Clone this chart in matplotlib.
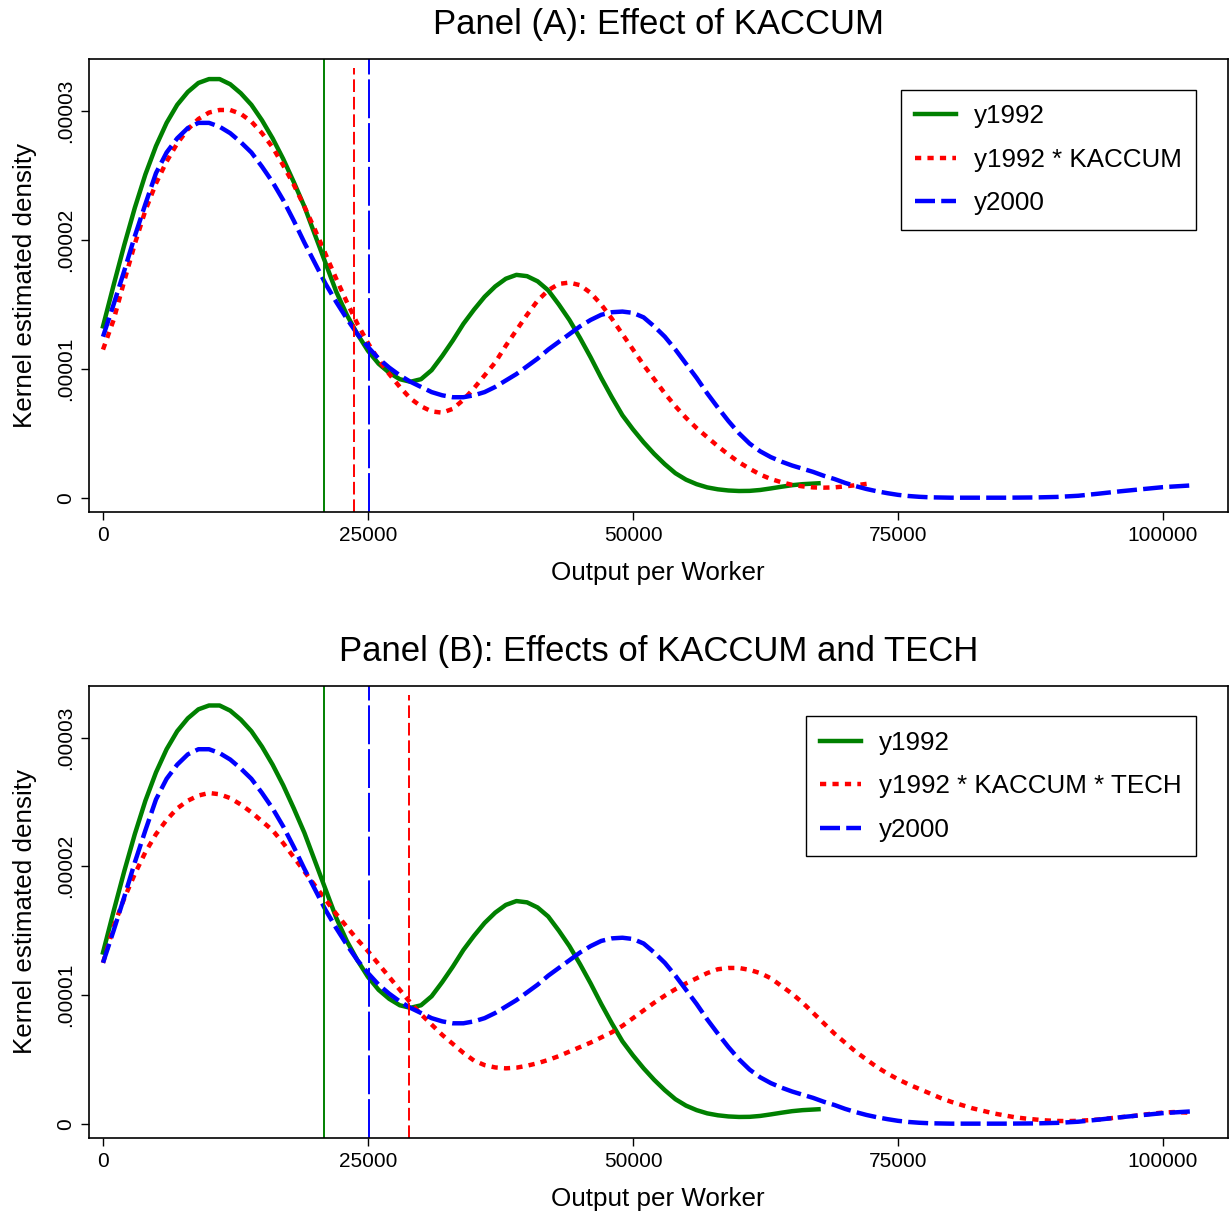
import matplotlib
matplotlib.use("Agg")
import matplotlib.pyplot as plt

plt.rcParams["font.family"] = ["Liberation Sans", "DejaVu Sans"]

# ----------------------------
# Data (x in thousands, density in 1e-6)
# ----------------------------
y1992_x = [0, 1, 2, 3, 4, 5, 6, 7, 8, 9, 10, 11, 12, 13, 14, 15, 16, 17, 18, 19,
           20, 21, 22, 23, 24, 25, 26, 27, 28, 29, 30, 31, 32, 33, 34, 35, 36, 37,
           38, 39, 40, 41, 42, 43, 44, 45, 46, 47, 48, 49, 50, 51, 52, 53, 54, 55,
           56, 57, 58, 59, 60, 61, 62, 63, 64, 65, 66, 67.5]
y1992_d = [13.3, 16.5, 19.6, 22.5, 25.1, 27.3, 29.1, 30.5, 31.5, 32.2, 32.5, 32.5, 32.1,
           31.4, 30.5, 29.3, 27.9, 26.3, 24.5, 22.6, 20.4, 18.2, 16.0, 14.2, 12.7, 11.4,
           10.4, 9.7, 9.2, 9.0, 9.2, 9.9, 11.0, 12.2, 13.5, 14.6, 15.6, 16.4, 17.0, 17.3,
           17.2, 16.8, 16.1, 15.0, 13.8, 12.4, 10.9, 9.3, 7.8, 6.4, 5.3, 4.3, 3.4, 2.6,
           1.9, 1.4, 1.05, 0.8, 0.65, 0.56, 0.52, 0.53, 0.6, 0.72, 0.85, 0.97, 1.05, 1.12]

kaccum_x = [0, 1, 2, 3, 4, 5, 6, 7, 8, 9, 10, 11, 12, 13, 14, 15, 16, 17, 18, 19,
            20, 21, 22, 23, 24, 25, 26, 27, 28, 29, 30, 31, 32, 33, 34, 35, 36, 37,
            38, 39, 40, 41, 42, 43, 44, 45, 46, 47, 48, 49, 50, 51, 52, 53, 54, 55,
            56, 57, 58, 59, 60, 61, 62, 63, 64, 65, 66, 67, 68, 69, 70, 71, 72.3]
kaccum_d = [11.5, 13.8, 16.8, 19.7, 22.3, 24.4, 26.1, 27.5, 28.6, 29.4, 29.9, 30.1, 30.1,
            29.8, 29.2, 28.3, 27.2, 25.8, 24.3, 22.6, 20.8, 18.9, 17.0, 15.2, 13.5, 12.0,
            10.7, 9.6, 8.6, 7.7, 7.1, 6.7, 6.6, 6.9, 7.6, 8.5, 9.5, 10.5, 11.8, 13.0,
            14.2, 15.3, 16.1, 16.6, 16.7, 16.5, 15.9, 15.0, 13.9, 12.7, 11.5, 10.3, 9.2,
            8.1, 7.1, 6.2, 5.4, 4.7, 4.0, 3.35, 2.75, 2.25, 1.8, 1.45, 1.2, 1.0, 0.88,
            0.8, 0.78, 0.8, 0.88, 0.97, 1.1]

y2000_x = [0, 1, 2, 3, 4, 5, 6, 7, 8, 9, 10, 11, 12, 13, 14, 15, 16, 17, 18, 19,
           20, 21, 22, 23, 24, 25, 26, 27, 28, 29, 30, 31, 32, 33, 34, 35, 36, 37,
           38, 39, 40, 41, 42, 43, 44, 45, 46, 47, 48, 49, 50, 51, 52, 53, 54, 55,
           56, 57, 58, 59, 60, 61, 62, 63, 64, 65, 66, 67, 68, 69, 70, 71, 72, 73,
           74, 75, 76, 77, 78, 80, 85, 88, 90, 92, 94, 96, 98, 100, 102.6]
y2000_d = [12.5, 15.0, 17.6, 20.3, 22.8, 25.2, 26.8, 27.9, 28.7, 29.1, 29.1, 28.8, 28.3,
           27.6, 26.8, 25.7, 24.5, 23.1, 21.5, 19.8, 18.2, 16.6, 15.2, 13.9, 12.7, 11.7,
           10.8, 10.1, 9.5, 9.0, 8.6, 8.2, 7.95, 7.8, 7.8, 7.95, 8.2, 8.6, 9.1, 9.6,
           10.2, 10.8, 11.5, 12.1, 12.7, 13.3, 13.8, 14.2, 14.4, 14.45, 14.35, 14.0, 13.3,
           12.5, 11.5, 10.4, 9.3, 8.1, 7.0, 5.95, 5.0, 4.2, 3.6, 3.15, 2.8, 2.5, 2.25,
           2.0, 1.7, 1.45, 1.15, 0.9, 0.68, 0.5, 0.35, 0.22, 0.13, 0.07, 0.03, 0.0,
           0.0, 0.02, 0.06, 0.15, 0.32, 0.5, 0.66, 0.82, 0.95]

tech_x = [0, 1, 2, 3, 4, 5, 6, 7, 8, 9, 10, 11, 12, 13, 14, 15, 16, 17, 18, 19,
          20, 21, 22, 23, 24, 25, 26, 27, 28, 29, 30, 31, 32, 33, 34, 35, 36, 37,
          38, 39, 40, 41, 42, 43, 44, 45, 46, 47, 48, 49, 50, 51, 52, 53, 54, 55,
          56, 57, 58, 59, 60, 61, 62, 63, 64, 65, 66, 67, 68, 69, 70, 71, 72, 73,
          74, 75, 76, 77, 78, 79, 80, 81, 82, 83, 84, 85, 86, 87, 88, 89, 90, 91,
          92, 93, 94, 95, 96, 97, 98, 99, 100, 101, 102.7]
tech_d = [12.5, 15.3, 17.5, 19.4, 21.1, 22.5, 23.6, 24.5, 25.1, 25.5, 25.7, 25.6, 25.3,
          24.8, 24.2, 23.5, 22.8, 21.8, 20.7, 19.6, 18.5, 17.4, 16.3, 15.3, 14.3, 13.4,
          12.4, 11.4, 10.4, 9.4, 8.5, 7.7, 6.9, 6.2, 5.5, 4.9, 4.55, 4.37, 4.3, 4.35,
          4.5, 4.7, 4.95, 5.25, 5.6, 5.95, 6.3, 6.7, 7.1, 7.6, 8.2, 8.8, 9.4, 9.95,
          10.45, 10.9, 11.3, 11.7, 12.0, 12.1, 12.1, 11.95, 11.7, 11.3, 10.7, 10.1, 9.4,
          8.6, 7.8, 7.0, 6.3, 5.6, 5.0, 4.4, 3.9, 3.45, 3.05, 2.7, 2.35, 2.0, 1.7,
          1.45, 1.2, 1.0, 0.8, 0.65, 0.5, 0.4, 0.32, 0.25, 0.21, 0.2, 0.22, 0.27,
          0.33, 0.42, 0.5, 0.58, 0.68, 0.78, 0.86, 0.9, 0.85]

# reference lines (thousands)
vline_a = {"y1992": 20.85, "kaccum": 23.7, "y2000": 25.1}
vline_b = {"y1992": 20.85, "tech": 28.9, "y2000": 25.1}

xticks = [0, 25000, 50000, 75000, 100000]
yticks = [0, 1e-5, 2e-5, 3e-5]
ytick_labels = ["0", ".00001", ".00002", ".00003"]

GREEN = "#008000"
RED = "#FF0000"
BLUE = "#0000FF"

SHORT = (0, (1.4, 1.4))
LONG = (0, (4.5, 1.4))


def k(xs):
    return [v * 1000 for v in xs]


def d(ys):
    return [v * 1e-6 for v in ys]


fig = plt.figure(figsize=(12.31, 12.14), dpi=100)
ax_a = fig.add_axes([0.0723, 0.5785, 0.9249, 0.3727])
ax_b = fig.add_axes([0.0723, 0.0629, 0.9249, 0.3723])


def setup(ax, title, vl, red_key, red_label, red_x, red_d):
    ax.plot(k(y1992_x), d(y1992_d), color=GREEN, lw=3.2, label="y1992",
            solid_joinstyle="round")
    ax.plot(k(red_x), d(red_d), color=RED, lw=3.2, linestyle=SHORT, label=red_label)
    ax.plot(k(y2000_x), d(y2000_d), color=BLUE, lw=3.2, linestyle=LONG, label="y2000")

    ax.axvline(vl["y1992"] * 1000, color=GREEN, lw=1.4)
    ax.axvline(vl[red_key] * 1000, ymax=0.98, color=RED, lw=1.4, linestyle=(0, (6.5, 2.5)))
    ax.axvline(vl["y2000"] * 1000, color=BLUE, lw=1.4, linestyle=(0, (20, 2.5)))

    ax.set_xlim(-1320, 106085)
    ax.set_ylim(-1.087e-6, 34.04e-6)
    ax.set_xticks(xticks)
    ax.set_xticklabels([str(t) for t in xticks], fontsize=15)
    ax.set_yticks(yticks)
    ax.set_yticklabels(ytick_labels, fontsize=15, rotation=90, va="center")
    ax.tick_params(length=6, width=1, direction="out", pad=4)
    ax.set_xlabel("Output per Worker", fontsize=18.7, labelpad=12)
    ax.set_ylabel("Kernel estimated density", fontsize=18.7, labelpad=14)
    ax.set_title(title, fontsize=25, pad=18)
    for s in ax.spines.values():
        s.set_linewidth(1.2)

    leg = ax.legend(loc="upper right", bbox_to_anchor=(0.972, 0.932), fontsize=18.7,
                    handlelength=1.58, handletextpad=0.68, labelspacing=0.75,
                    borderpad=0.55, borderaxespad=0, fancybox=False,
                    edgecolor="black", framealpha=1)
    leg.get_frame().set_linewidth(1.0)


setup(ax_a, "Panel (A): Effect of KACCUM", vline_a, "kaccum",
      "y1992 * KACCUM", kaccum_x, kaccum_d)
setup(ax_b, "Panel (B): Effects of KACCUM and TECH", vline_b, "tech",
      "y1992 * KACCUM * TECH", tech_x, tech_d)

fig.savefig("out.png", dpi=100)
